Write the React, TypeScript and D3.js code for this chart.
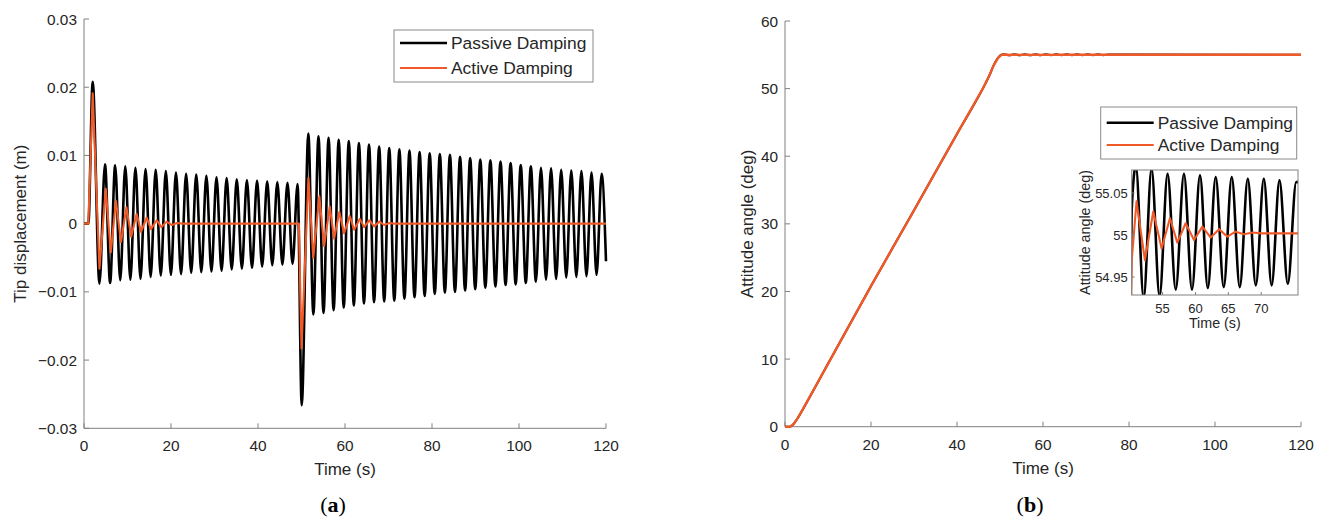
import React from 'react';
import * as d3 from 'd3';

const W = 1325;
const H = 523;
const FONT = "'Liberation Sans', Arial, Helvetica, sans-serif";
const SERIF = "'Liberation Serif', 'DejaVu Serif', serif";
const TEXT = '#262626';
const AXIS = '#808080';
const BLACK = '#000000';
const ORANGE = '#F05A28';

const seriesNames = ['Passive Damping', 'Active Damping'];

// ---- Panel (a): tip displacement, extremes of each swing ----
const passiveTimeA = [
  0, 1.0, 2.0, 3.55, 4.83, 6.0, 7.16, 8.33, 9.49, 10.66, 11.82, 12.99, 14.15, 15.32, 16.48,
  17.65, 18.81, 19.98, 21.14, 22.31, 23.47, 24.64, 25.8, 26.97, 28.13, 29.3, 30.46, 31.63,
  32.79, 33.96, 35.12, 36.29, 37.45, 38.62, 39.78, 40.95, 42.11, 43.28, 44.44, 45.61, 46.77,
  47.94, 49.1, 50.05, 51.57, 52.73, 53.9, 55.06, 56.22, 57.38, 58.55, 59.71, 60.87, 62.03,
  63.2, 64.36, 65.52, 66.68, 67.85, 69.01, 70.17, 71.33, 72.5, 73.66, 74.82, 75.98, 77.15,
  78.31, 79.47, 80.63, 81.8, 82.96, 84.12, 85.28, 86.45, 87.61, 88.77, 89.93, 91.1, 92.26,
  93.42, 94.58, 95.75, 96.91, 98.07, 99.23, 100.4, 101.56, 102.72, 103.88, 105.05, 106.21,
  107.37, 108.53, 109.7, 110.86, 112.02, 113.18, 114.35, 115.51, 116.67, 117.83, 119.0, 120.0,
];
const passiveDispA = [
  0, 0, 0.0208, -0.0088, 0.0087, -0.0087, 0.00854, -0.0083, 0.0084, -0.0082, 0.0082, -0.0081,
  0.008, -0.0078, 0.0079, -0.0076, 0.0077, -0.0075, 0.0075, -0.0074, 0.0073, -0.0072, 0.0072,
  -0.0071, 0.007, -0.007, 0.0068, -0.0069, 0.0067, -0.0067, 0.0065, -0.0066, 0.0064, -0.0065,
  0.0063, -0.0063, 0.0062, -0.0061, 0.0061, -0.006, 0.006, -0.0059, 0.0058, -0.0266, 0.0132,
  -0.0133, 0.0128, -0.0131, 0.0126, -0.0127, 0.0123, -0.0123, 0.0121, -0.012, 0.0118, -0.0117,
  0.0116, -0.0115, 0.0113, -0.0114, 0.0111, -0.0113, 0.0109, -0.011, 0.0107, -0.0108, 0.0105,
  -0.0106, 0.0103, -0.0103, 0.0102, -0.0101, 0.0101, -0.01, 0.0098, -0.0098, 0.0096, -0.0096,
  0.0094, -0.0094, 0.0093, -0.0092, 0.0091, -0.009, 0.0089, -0.0089, 0.0086, -0.0087, 0.0084,
  -0.0085, 0.0082, -0.0082, 0.0081, -0.0081, 0.0079, -0.0079, 0.0078, -0.0078, 0.0077, -0.0077,
  0.0075, -0.0075, 0.0073, -0.0055,
];
const activeTimeA = [
  0, 1.0, 2.0, 3.55, 5.0, 6.15, 7.35, 8.5, 9.75, 10.85, 12.1, 13.1, 14.4, 15.4, 16.7, 17.8,
  19.0, 20.2, 21.4, 22.6, 49.4, 50.0, 51.6, 52.7, 54.1, 55.2, 56.5, 57.5, 58.7, 59.8, 61.1,
  62.1, 63.4, 64.4, 65.6, 66.7, 67.9, 69.0, 70.2, 71.4, 120.0,
];
const activeDispA = [
  0, 0, 0.0191, -0.0066, 0.0051, -0.0042, 0.0033, -0.0027, 0.0024, -0.0019, 0.0014, -0.0012,
  0.0009, -0.0008, 0.0005, -0.0005, 0.0003, -0.0002, 0.0001, 0, 0, -0.0183, 0.0067, -0.005,
  0.004, -0.0033, 0.0025, -0.0022, 0.0017, -0.0014, 0.0011, -0.0009, 0.0007, -0.0005, 0.0005,
  -0.0004, 0.0003, -0.0002, 0.0001, 0, 0,
];

const timeTicks = [0, 20, 40, 60, 80, 100, 120];
const dispTicks = [-0.03, -0.02, -0.01, 0, 0.01, 0.02, 0.03];
const dispTickLabels = ['\u22120.03', '\u22120.02', '\u22120.01', '0', '0.01', '0.02', '0.03'];

// ---- Panel (b): attitude angle ----
const rampTime = [0, 1.2, 2.0, 3.0, 4.0, 10, 20, 30, 40, 46, 47.5, 48.5, 49.5];
const rampAngle = [0, 0, 0.4, 1.3, 2.4, 9.3, 20.8, 32.0, 43.3, 50.0, 51.9, 53.4, 54.5];

const passiveSettleTime = [
  50.3, 50.93, 52.12, 53.32, 54.54, 55.76, 57.0, 58.25, 59.47, 60.69, 61.88, 63.08, 64.3, 65.52,
  66.74, 67.96, 69.18, 70.4, 71.59, 72.78, 74.05, 75.33, 120.0,
];
const passiveSettleAngle = [
  55.03, 55.082, 54.925, 55.079, 54.927, 55.073, 54.935, 55.073, 54.935, 55.071, 54.937, 55.069,
  54.938, 55.069, 54.938, 55.067, 54.94, 55.067, 54.94, 55.065, 54.942, 55.063, 55.0,
];
const activeSettleTime = [
  50.3, 51.04, 52.31, 53.58, 54.85, 56.12, 57.24, 58.51, 59.78, 61.05, 62.32, 63.59, 64.86,
  66.1, 67.4, 68.7, 70.0, 75.6, 120.0,
];
const activeSettleAngle = [
  54.97, 55.04, 54.97, 55.028, 54.984, 55.02, 54.991, 55.014, 54.994, 55.01, 54.997, 55.007,
  54.998, 55.004, 55.001, 55.003, 55.002, 55.002, 55.0,
];

const angleTicks = [0, 10, 20, 30, 40, 50, 60];
const insetTimeTicks = [55, 60, 65, 70];
const insetAngleTicks = [54.95, 55, 55.05];
const insetAngleLabels = ['54.95', '55', '55.05'];

type Pt = [number, number];
const zip = (t: number[], v: number[]): Pt[] => t.map((x, i) => [x, v[i]] as Pt);

// Scales
const xA = d3.scaleLinear().domain([0, 120]).range([84, 606]);
const yA = d3.scaleLinear().domain([-0.03, 0.03]).range([428.3, 19]);
const xB = d3.scaleLinear().domain([0, 120]).range([785, 1301]);
const yB = d3.scaleLinear().domain([0, 60]).range([426.7, 21]);
const xI = d3.scaleLinear().domain([50.3, 75.6]).range([1131.7, 1298]);
const yI = d3.scaleLinear().domain([54.9286, 55.0774]).range([295, 170]);

function smoothPath(x: d3.ScaleLinear<number, number>, y: d3.ScaleLinear<number, number>, pts: Pt[]) {
  return d3.line<Pt>().x(d => x(d[0])).y(d => y(d[1])).curve(d3.curveMonotoneX)(pts) || '';
}
function linePath(x: d3.ScaleLinear<number, number>, y: d3.ScaleLinear<number, number>, pts: Pt[]) {
  return d3.line<Pt>().x(d => x(d[0])).y(d => y(d[1]))(pts) || '';
}

function MainAxes(props: {
  x: d3.ScaleLinear<number, number>;
  y: d3.ScaleLinear<number, number>;
  yTicks: number[];
  yLabels: string[];
  yTitle: string;
  yTitleX: number;
}) {
  const { x, y, yTicks, yLabels, yTitle, yTitleX } = props;
  const [x0, x1] = x.range();
  const [yb, yt] = y.range();
  return (
    <g>
      <line x1={x0} x2={x0} y1={yt} y2={yb} stroke={AXIS} strokeWidth={1} />
      <line x1={x0} x2={x1} y1={yb} y2={yb} stroke={AXIS} strokeWidth={1} />
      {yTicks.map((t, i) => (
        <g key={'y' + i}>
          <line x1={x0} x2={x0 + 5} y1={y(t)} y2={y(t)} stroke={AXIS} />
          <text x={x0 - 7} y={y(t) + 5.5} textAnchor="end" fontFamily={FONT} fontSize={15.4} fill={TEXT}>
            {yLabels[i]}
          </text>
        </g>
      ))}
      {timeTicks.map((t, i) => (
        <g key={'x' + i}>
          <line x1={x(t)} x2={x(t)} y1={yb} y2={yb - 5} stroke={AXIS} />
          <text x={x(t)} y={yb + 23} textAnchor="middle" fontFamily={FONT} fontSize={15.4} fill={TEXT}>
            {t}
          </text>
        </g>
      ))}
      <text x={(x0 + x1) / 2} y={yb + 47} textAnchor="middle" fontFamily={FONT} fontSize={17} fill={TEXT}>
        Time (s)
      </text>
      <text
        transform={`translate(${yTitleX},${(yt + yb) / 2}) rotate(-90)`}
        textAnchor="middle"
        fontFamily={FONT}
        fontSize={17}
        fill={TEXT}
      >
        {yTitle}
      </text>
    </g>
  );
}

function Legend(props: { x: number; y: number; w: number; h: number; row1: number; row2: number }) {
  const { x, y, w, h, row1, row2 } = props;
  const rows = [row1, row2];
  const colors = [BLACK, ORANGE];
  const widths = [2.6, 2.2];
  return (
    <g>
      <rect x={x} y={y} width={w} height={h} fill="#fff" stroke="#8a8a8a" strokeWidth={1} />
      {seriesNames.map((name, i) => (
        <g key={name}>
          <line x1={x + 6} x2={x + 53} y1={rows[i]} y2={rows[i]} stroke={colors[i]} strokeWidth={widths[i]} />
          <text x={x + 57} y={rows[i] + 6.2} fontFamily={FONT} fontSize={17.4} fill={TEXT}>
            {name}
          </text>
        </g>
      ))}
    </g>
  );
}

export default function App() {
  const passiveA = zip(passiveTimeA, passiveDispA);
  const activeA = zip(activeTimeA, activeDispA);
  const passiveB = zip(rampTime.concat(passiveSettleTime), rampAngle.concat(passiveSettleAngle));
  const activeB = zip(rampTime.concat(activeSettleTime), rampAngle.concat(activeSettleAngle));

  const [ix0, ix1] = xI.range();
  const [iyb, iyt] = yI.range();

  return (
    <svg
      width={W}
      height={H}
      viewBox={`0 0 ${W} ${H}`}
      style={{ position: 'absolute', left: 0, top: 0, background: '#fff' }}
    >
      <rect width={W} height={H} fill="#fff" />
      <defs>
        <clipPath id="clipInset">
          <rect x={ix0} y={iyt} width={ix1 - ix0} height={iyb - iyt} />
        </clipPath>
      </defs>

      {/* (a) Tip displacement */}
      <MainAxes x={xA} y={yA} yTicks={dispTicks} yLabels={dispTickLabels} yTitle="Tip displacement (m)" yTitleX={26} />
      <path d={smoothPath(xA, yA, passiveA)} fill="none" stroke={BLACK} strokeWidth={2.6} strokeLinejoin="round" />
      <path d={linePath(xA, yA, activeA)} fill="none" stroke={ORANGE} strokeWidth={2.1} strokeLinejoin="round" />
      <Legend x={394} y={30} w={199} h={52} row1={43} row2={68} />
      <text x={333} y={512} textAnchor="middle" fontFamily={SERIF} fontSize={22} fill="#000">
        (<tspan fontWeight="bold">a</tspan>)
      </text>

      {/* (b) Attitude angle */}
      <MainAxes
        x={xB}
        y={yB}
        yTicks={angleTicks}
        yLabels={angleTicks.map(String)}
        yTitle="Attitude angle (deg)"
        yTitleX={753}
      />
      <path d={smoothPath(xB, yB, passiveB)} fill="none" stroke={BLACK} strokeWidth={2.0} strokeLinejoin="round" />
      <path d={linePath(xB, yB, activeB)} fill="none" stroke={ORANGE} strokeWidth={2.4} strokeLinejoin="round" />
      <text x={1030} y={512} textAnchor="middle" fontFamily={SERIF} fontSize={22} fill="#000">
        (<tspan fontWeight="bold">b</tspan>)
      </text>

      {/* Inset: settling around the 55 deg target */}
      <Legend x={1100.7} y={107} w={196} h={52} row1={122.7} row2={145} />
      <rect x={ix0} y={iyt} width={ix1 - ix0} height={iyb - iyt} fill="#fff" />
      <g clipPath="url(#clipInset)">
        <path d={smoothPath(xI, yI, passiveB)} fill="none" stroke={BLACK} strokeWidth={2.6} strokeLinejoin="round" />
        <path d={linePath(xI, yI, activeB)} fill="none" stroke={ORANGE} strokeWidth={2.1} strokeLinejoin="round" />
      </g>
      <rect x={ix0} y={iyt} width={ix1 - ix0} height={iyb - iyt} fill="none" stroke={AXIS} strokeWidth={1} />
      {insetAngleTicks.map((t, i) => (
        <g key={'iy' + i}>
          <line x1={ix0} x2={ix0 + 3} y1={yI(t)} y2={yI(t)} stroke={AXIS} />
          <text x={ix0 - 4} y={yI(t) + 4.6} textAnchor="end" fontFamily={FONT} fontSize={13} fill={TEXT}>
            {insetAngleLabels[i]}
          </text>
        </g>
      ))}
      {insetTimeTicks.map((t, i) => (
        <g key={'ix' + i}>
          <line x1={xI(t)} x2={xI(t)} y1={iyb} y2={iyb - 3} stroke={AXIS} />
          <text x={xI(t)} y={iyb + 18} textAnchor="middle" fontFamily={FONT} fontSize={13} fill={TEXT}>
            {t}
          </text>
        </g>
      ))}
      <text x={(ix0 + ix1) / 2} y={iyb + 33} textAnchor="middle" fontFamily={FONT} fontSize={14.3} fill={TEXT}>
        Time (s)
      </text>
      <text
        transform={`translate(${1090},${(iyt + iyb) / 2}) rotate(-90)`}
        textAnchor="middle"
        fontFamily={FONT}
        fontSize={14.3}
        fill={TEXT}
      >
        Attitude angle (deg)
      </text>
    </svg>
  );
}
